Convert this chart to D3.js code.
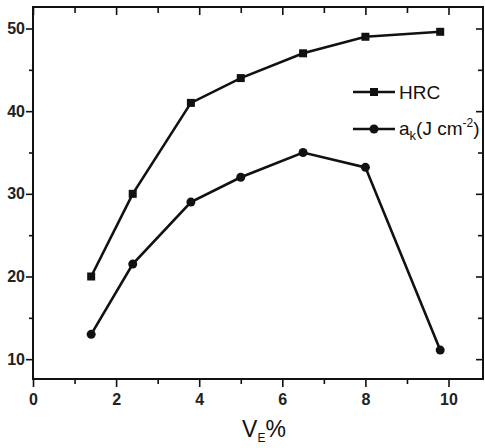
<!DOCTYPE html>
<html>
<head>
<meta charset="utf-8">
<script src="https://cdn.jsdelivr.net/npm/d3@7"></script>
<style>
  body { margin: 0; background: #fff; }
  text { font-family: "Liberation Sans", Arial, sans-serif; fill: #111; }
</style>
</head>
<body>
<div id="chart"></div>
<script>
// values
const veValues = [1.4, 2.4, 3.8, 5.0, 6.5, 8.0, 9.8];
const hrcValues = [20, 30, 41, 44, 47, 49, 49.6];
const akValues = [13, 21.5, 29, 32, 35, 33.2, 11.1];
const xTicks = [0, 2, 4, 6, 8, 10];
const yTicks = [10, 20, 30, 40, 50];

const width = 485, height = 448;
const margin = {top: 7, right: 2, bottom: 69, left: 33};
const plotW = width - margin.left - margin.right,
    plotH = height - margin.top - margin.bottom;

const x = d3.scaleLinear().domain([0, 10.83]).range([0, plotW]);
const y = d3.scaleLinear().domain([7.6, 52.6]).range([plotH, 0]);

const svg = d3.select("#chart").append("svg")
    .attr("width", width)
    .attr("height", height);

const g = svg.append("g")
    .attr("transform", "translate(" + margin.left + "," + margin.top + ")");

const xMinor = d3.range(1, 11, 2);
const yMinor = d3.range(15, 55, 10);

// bottom axis, ticks outward
g.append("g")
    .attr("class", "x axis")
    .attr("transform", "translate(0," + plotH + ")")
    .call(d3.axisBottom(x).tickValues(xTicks).tickSize(8).tickPadding(7).tickSizeOuter(0));
g.append("g")
    .attr("transform", "translate(0," + plotH + ")")
    .call(d3.axisBottom(x).tickValues(xMinor).tickSize(5).tickFormat("").tickSizeOuter(0));

// left axis
g.append("g")
    .attr("class", "y axis")
    .call(d3.axisLeft(y).tickValues(yTicks).tickSize(7).tickPadding(1).tickSizeOuter(0));
g.append("g")
    .call(d3.axisLeft(y).tickValues(yMinor).tickSize(4).tickFormat("").tickSizeOuter(0));

// top and right mirror axes, ticks inward
g.append("g")
    .call(d3.axisTop(x).tickValues(xTicks).tickSize(-8).tickFormat("").tickSizeOuter(0));
g.append("g")
    .call(d3.axisTop(x).tickValues(xMinor).tickSize(-6).tickFormat("").tickSizeOuter(0));
g.append("g")
    .attr("transform", "translate(" + plotW + ",0)")
    .call(d3.axisRight(y).tickValues(yTicks).tickSize(-7).tickFormat("").tickSizeOuter(0));
g.append("g")
    .attr("transform", "translate(" + plotW + ",0)")
    .call(d3.axisRight(y).tickValues(yMinor).tickSize(-5).tickFormat("").tickSizeOuter(0));

g.selectAll(".tick line").attr("stroke", "#111").attr("stroke-width", 1.6);
g.selectAll(".domain").attr("stroke", "none");
g.selectAll(".tick text")
    .style("font-size", "16px")
    .style("font-weight", "bold")
    .style("fill", "#222");

g.append("rect")
    .attr("width", plotW)
    .attr("height", plotH)
    .attr("fill", "none")
    .attr("stroke", "#111")
    .attr("stroke-width", 2);

const hrc = veValues.map(function(v, i) { return {ve: v, val: hrcValues[i]}; });
const ak = veValues.map(function(v, i) { return {ve: v, val: akValues[i]}; });

const line = d3.line()
    .x(function(d) { return x(d.ve); })
    .y(function(d) { return y(d.val); });

[hrc, ak].forEach(function(s) {
    g.append("path")
        .datum(s)
        .attr("d", line)
        .attr("fill", "none")
        .attr("stroke", "#111")
        .attr("stroke-width", 2.6);
});

g.selectAll(".hrcPoint")
    .data(hrc)
    .enter()
    .append("rect")
    .attr("class", "hrcPoint")
    .attr("x", function(d) { return x(d.ve) - 4; })
    .attr("y", function(d) { return y(d.val) - 4; })
    .attr("width", 8)
    .attr("height", 8)
    .attr("fill", "#111");

g.selectAll(".akPoint")
    .data(ak)
    .enter()
    .append("circle")
    .attr("class", "akPoint")
    .attr("cx", function(d) { return x(d.ve); })
    .attr("cy", function(d) { return y(d.val); })
    .attr("r", 4.5)
    .attr("fill", "#111");

// legend
const legend = svg.append("g").attr("transform", "translate(353,92)");
legend.append("line").attr("x1", 0).attr("x2", 42).attr("stroke", "#111").attr("stroke-width", 2.6);
legend.append("rect").attr("x", 17).attr("y", -4).attr("width", 8).attr("height", 8).attr("fill", "#111");
legend.append("text").attr("x", 46).attr("y", 7).style("font-size", "19px").text("HRC");

const legend2 = svg.append("g").attr("transform", "translate(353,129)");
legend2.append("line").attr("x1", 0).attr("x2", 42).attr("stroke", "#111").attr("stroke-width", 2.6);
legend2.append("circle").attr("cx", 21).attr("r", 4.5).attr("fill", "#111");
const t2 = legend2.append("text").attr("x", 46).attr("y", 6).style("font-size", "19px");
t2.append("tspan").text("a");
t2.append("tspan").attr("dy", 5).style("font-size", "13px").text("k");
t2.append("tspan").attr("dy", -5).text("(J cm");
t2.append("tspan").attr("dy", -8).style("font-size", "12px").text("-2");
t2.append("tspan").attr("dy", 8).text(")");

// x axis title
const xt = svg.append("text")
    .attr("x", 264)
    .attr("y", 437)
    .attr("text-anchor", "middle")
    .style("font-size", "23px");
xt.append("tspan").text("V");
xt.append("tspan").attr("dy", 5).style("font-size", "12px").text("E");
xt.append("tspan").attr("dy", -5).text("%");
</script>
</body>
</html>
